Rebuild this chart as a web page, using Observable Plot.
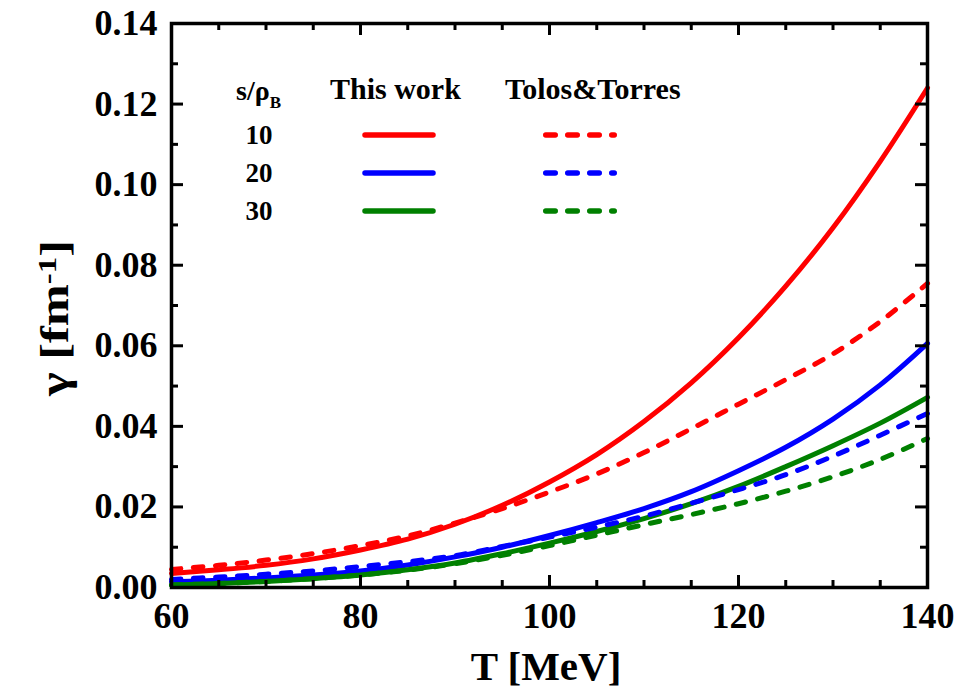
<!DOCTYPE html>
<html>
<head>
<meta charset="utf-8">
<script src="https://cdn.jsdelivr.net/npm/d3@7"></script>
<script src="https://cdn.jsdelivr.net/npm/@observablehq/plot@0.6"></script>
<style>
  html, body { margin: 0; padding: 0; background: #fff; }
  #chart svg { display: block; }
</style>
</head>
<body>
<div id="chart"></div>
<script>
// Temperature grid (MeV)
const temperature = [60, 65, 70, 75, 80, 85, 90, 95, 100, 105, 110, 115, 120, 125, 130, 135, 140];

// γ [fm^-1] — this work, s/ρB = 10, 20, 30
const thisWork10 = [0.0035, 0.0044, 0.0055, 0.0071, 0.0093, 0.0120, 0.0157, 0.0204, 0.0262, 0.0330, 0.0412, 0.0508, 0.0620, 0.0748, 0.0893, 0.1058, 0.1240];
const thisWork20 = [0.0014, 0.0018, 0.0024, 0.0031, 0.0041, 0.0056, 0.0076, 0.0100, 0.0129, 0.0161, 0.0196, 0.0238, 0.0290, 0.0348, 0.0418, 0.0503, 0.0606];
const thisWork30 = [0.0006, 0.0010, 0.0015, 0.0022, 0.0031, 0.0044, 0.0061, 0.0084, 0.0110, 0.0139, 0.0171, 0.0208, 0.0251, 0.0300, 0.0352, 0.0408, 0.0472];

// γ [fm^-1] — Tolos & Torres, s/ρB = 10, 20, 30
const tolosTorres10 = [0.0045, 0.0055, 0.0068, 0.0084, 0.0104, 0.0128, 0.0160, 0.0196, 0.0237, 0.0282, 0.0335, 0.0394, 0.0455, 0.0516, 0.0580, 0.0660, 0.0755];
const tolosTorres20 = [0.0020, 0.0026, 0.0033, 0.0041, 0.0052, 0.0064, 0.0079, 0.0102, 0.0125, 0.0150, 0.0177, 0.0209, 0.0243, 0.0280, 0.0326, 0.0378, 0.0432];
const tolosTorres30 = [0.0006, 0.0010, 0.0015, 0.0022, 0.0031, 0.0043, 0.0059, 0.0080, 0.0104, 0.0130, 0.0156, 0.0181, 0.0208, 0.0239, 0.0275, 0.0318, 0.0370];

const entropyRatios = ["10", "20", "30"];
const seriesColors = ["#ff0000", "#0000ff", "#008000"];

// Axis ticks
const xMajor = [60, 80, 100, 120, 140];
const xMinor = [65, 70, 75, 85, 90, 95, 105, 110, 115, 125, 130, 135];
const yMajor = [0, 0.02, 0.04, 0.06, 0.08, 0.10, 0.12, 0.14];
const yMinor = [0.01, 0.03, 0.05, 0.07, 0.09, 0.11, 0.13];

// Long-format table for the line marks
const sources = [
  {src: "This work", values: [thisWork10, thisWork20, thisWork30]},
  {src: "Tolos&Torres", values: [tolosTorres10, tolosTorres20, tolosTorres30]}
];
const rows = [];
for (const {src, values} of sources) {
  values.forEach((arr, i) => {
    arr.forEach((g, j) => rows.push({src, ratio: entropyRatios[i], color: seriesColors[i], T: temperature[j], gamma: g}));
  });
}
const solidRows = rows.filter(d => d.src === "This work");
const dashedRows = rows.filter(d => d.src === "Tolos&Torres");

const W = 974, H = 689;
const mL = 171, mR = 47, mT = 23, mB = 102;
const innerH = H - mT - mB;
const innerW = W - mL - mR;
const font = "'Liberation Serif', 'Times New Roman', serif";
const majorLen = 12, minorLen = 7;
const tickStyle = {stroke: "#000", strokeWidth: 3};

const chart = Plot.plot({
  width: W,
  height: H,
  marginLeft: mL,
  marginRight: mR,
  marginTop: mT,
  marginBottom: mB,
  style: {fontFamily: font, background: "#fff", overflow: "visible"},
  x: {domain: [60, 140], axis: null},
  y: {domain: [0, 0.14], axis: null},
  marks: [
    Plot.line(solidRows, {x: "T", y: "gamma", z: "ratio", stroke: "color", strokeWidth: 5, curve: "catmull-rom"}),
    Plot.line(dashedRows, {x: "T", y: "gamma", z: "ratio", stroke: "color", strokeWidth: 5, curve: "catmull-rom",
      strokeDasharray: "9.5,12.5", strokeLinecap: "round"}),
    // inward ticks on all four sides
    Plot.tickX(xMajor, {x: d => d, insetTop: innerH - majorLen, ...tickStyle}),
    Plot.tickX(xMinor, {x: d => d, insetTop: innerH - minorLen, ...tickStyle}),
    Plot.tickX(xMajor, {x: d => d, insetBottom: innerH - majorLen, ...tickStyle}),
    Plot.tickX(xMinor, {x: d => d, insetBottom: innerH - minorLen, ...tickStyle}),
    Plot.tickY(yMajor, {y: d => d, insetRight: innerW - majorLen, ...tickStyle}),
    Plot.tickY(yMinor, {y: d => d, insetRight: innerW - minorLen, ...tickStyle}),
    Plot.tickY(yMajor, {y: d => d, insetLeft: innerW - majorLen, ...tickStyle}),
    Plot.tickY(yMinor, {y: d => d, insetLeft: innerW - minorLen, ...tickStyle}),
    Plot.frame({stroke: "#000", strokeWidth: 3.5}),
    // tick labels
    Plot.text(xMajor, {x: d => d, frameAnchor: "bottom", dy: 29, text: d => String(d),
      fontSize: 36, fontWeight: "bold", fill: "#000", lineAnchor: "middle"}),
    Plot.text(yMajor, {y: d => d, frameAnchor: "left", dx: -14, text: d => d.toFixed(2),
      fontSize: 36, fontWeight: "bold", fill: "#000", textAnchor: "end", lineAnchor: "middle"})
  ]
});

const svg = d3.select(chart);

// Axis titles
svg.append("text")
  .attr("x", 546).attr("y", 680)
  .attr("text-anchor", "middle")
  .attr("font-family", font).attr("font-weight", "bold").attr("font-size", 41)
  .attr("fill", "#000")
  .text("T [MeV]");

const yTitle = svg.append("text")
  .attr("transform", "translate(68,318) rotate(-90)")
  .attr("text-anchor", "middle")
  .attr("font-family", font).attr("font-weight", "bold").attr("font-size", 40)
  .attr("textLength", 156).attr("lengthAdjust", "spacingAndGlyphs")
  .attr("fill", "#000");
yTitle.append("tspan").text("γ [fm");
yTitle.append("tspan").attr("dy", "-0.45em").attr("font-size", 26).text("-1");
yTitle.append("tspan").attr("dy", "0.3em").text("]");

// Legend
const legend = svg.append("g")
  .attr("font-family", font).attr("font-weight", "bold").attr("fill", "#000")
  .attr("text-anchor", "start");

const ratioHead = legend.append("text").attr("x", 236).attr("y", 100).attr("font-size", 28);
ratioHead.append("tspan").text("s/ρ");
ratioHead.append("tspan").attr("dy", 8).attr("font-size", 17).text("B");

legend.append("text").attr("x", 330).attr("y", 99).attr("font-size", 30).text("This work");
legend.append("text").attr("x", 505).attr("y", 99).attr("font-size", 30).text("Tolos&Torres");

const rowY = [135, 173, 211];
entropyRatios.forEach((r, i) => {
  legend.append("text").attr("x", 259).attr("y", rowY[i] + 9).attr("font-size", 27)
    .attr("text-anchor", "middle").text(r);
  legend.append("line")
    .attr("x1", 365).attr("x2", 433).attr("y1", rowY[i]).attr("y2", rowY[i])
    .attr("stroke", seriesColors[i]).attr("stroke-width", 5.5).attr("stroke-linecap", "round");
  legend.append("line")
    .attr("x1", 545.75).attr("x2", 614.25).attr("y1", rowY[i]).attr("y2", rowY[i])
    .attr("stroke", seriesColors[i]).attr("stroke-width", 5.5).attr("stroke-linecap", "round")
    .attr("stroke-dasharray", "9.5,12.5");
});

document.getElementById("chart").appendChild(chart);
</script>
</body>
</html>
